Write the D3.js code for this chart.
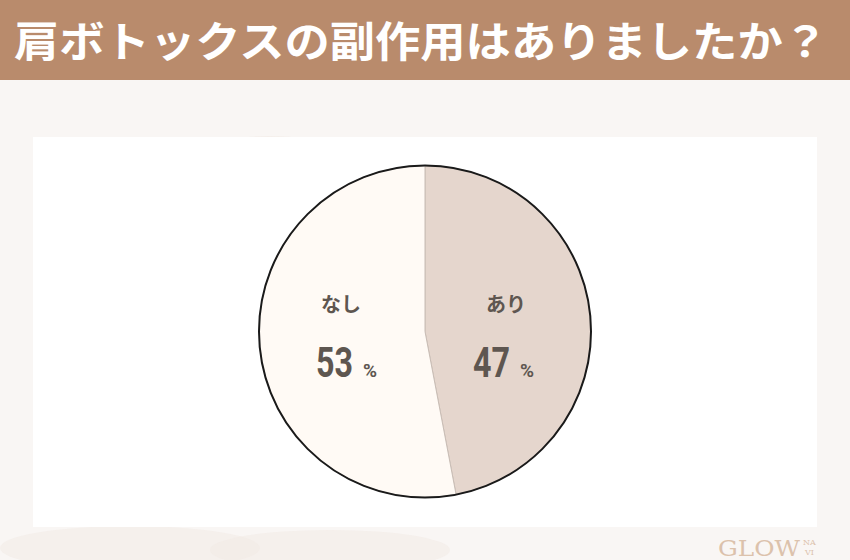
<!DOCTYPE html>
<html><head><meta charset="utf-8">
<script src="https://cdn.jsdelivr.net/npm/d3@7"></script>
<style>body{margin:0;background:#f7f3f1;}svg{display:block;}</style>
</head><body>
<svg id="c" width="850" height="560"></svg>
<script>
const title = "肩ボトックスの副作用はありましたか？";
const categories = ["あり", "なし"];
const values = [47, 53];
const colors = ["#e5d6cd", "#fffaf5"];

const svg = d3.select("#c");
const W = 850, H = 560;
const font = "'Noto Sans CJK JP', 'Noto Sans', sans-serif";

// background
svg.append("rect").attr("width", W).attr("height", H).attr("fill", "#f9f6f4");
const blobs = [[130,548,130,22],[330,550,120,20],[480,152,60,14],[270,146,50,10]];
svg.selectAll("ellipse.bg").data(blobs).join("ellipse")
  .attr("cx", d => d[0]).attr("cy", d => d[1]).attr("rx", d => d[2]).attr("ry", d => d[3])
  .attr("fill", "#f1e9e3").attr("opacity", 0.5);

// header
svg.append("rect").attr("x", 0).attr("y", 0).attr("width", W).attr("height", 80).attr("fill", "#b98b6c");
svg.append("text").attr("x", 14).attr("y", 57)
  .attr("font-family", font).attr("font-weight", 700).attr("font-size", 42)
  .attr("fill", "#ffffff").attr("textLength", 814).attr("lengthAdjust", "spacingAndGlyphs")
  .text(title);

// panel
svg.append("rect").attr("x", 33).attr("y", 137).attr("width", 784).attr("height", 390).attr("fill", "#ffffff");

// pie
const cx = 425, cy = 331.5, r = 166;
const pie = d3.pie().sort(null).value(d => d.v);
const data = pie(categories.map((c, i) => ({c, v: values[i], col: colors[i]})));
const arc = d3.arc().innerRadius(0).outerRadius(r);
const g = svg.append("g").attr("transform", `translate(${cx},${cy})`);
g.selectAll("path").data(data).join("path")
  .attr("d", arc).attr("fill", d => d.data.col)
  .attr("stroke", "#c9bdb5").attr("stroke-width", 1);
g.append("circle").attr("r", r).attr("fill", "none").attr("stroke", "#1a1a1a").attr("stroke-width", 2);

// labels
const labelX = {"あり": 506, "なし": 341};
const numStart = {"あり": 473, "なし": 316};
data.forEach(d => {
  const c = d.data.c;
  g.append("text").attr("x", labelX[c] - cx).attr("y", 312 - cy)
    .attr("text-anchor", "middle").attr("font-family", font).attr("font-weight", 700)
    .attr("font-size", 20).attr("fill", "#5e5650").text(c);
  g.append("text").attr("x", numStart[c] - cx).attr("y", 377 - cy)
    .attr("font-family", "'Roboto', 'Noto Sans', sans-serif").attr("font-weight", 700)
    .attr("font-size", 42).attr("fill", "#5e5650")
    .attr("textLength", 37).attr("lengthAdjust", "spacingAndGlyphs")
    .text(d.data.v);
  g.append("text").attr("x", numStart[c] + 47 - cx).attr("y", 377 - cy)
    .attr("font-family", "'Roboto', 'Noto Sans', sans-serif").attr("font-weight", 700)
    .attr("font-size", 19).attr("fill", "#5e5650").text("%");
});

// logo
svg.append("text").attr("x", 718).attr("y", 556).attr("font-family", "'DejaVu Serif', serif")
  .attr("font-size", 22).attr("fill", "#dcc2ac").attr("textLength", 82).attr("lengthAdjust", "spacingAndGlyphs").text("GLOW");
svg.append("text").attr("x", 803).attr("y", 545).attr("font-family", "'DejaVu Serif', serif")
  .attr("font-size", 8).attr("fill", "#dcc2ac").text("NA");
svg.append("text").attr("x", 805).attr("y", 555).attr("font-family", "'DejaVu Serif', serif")
  .attr("font-size", 8).attr("fill", "#dcc2ac").text("VI");
</script>
</body></html>
